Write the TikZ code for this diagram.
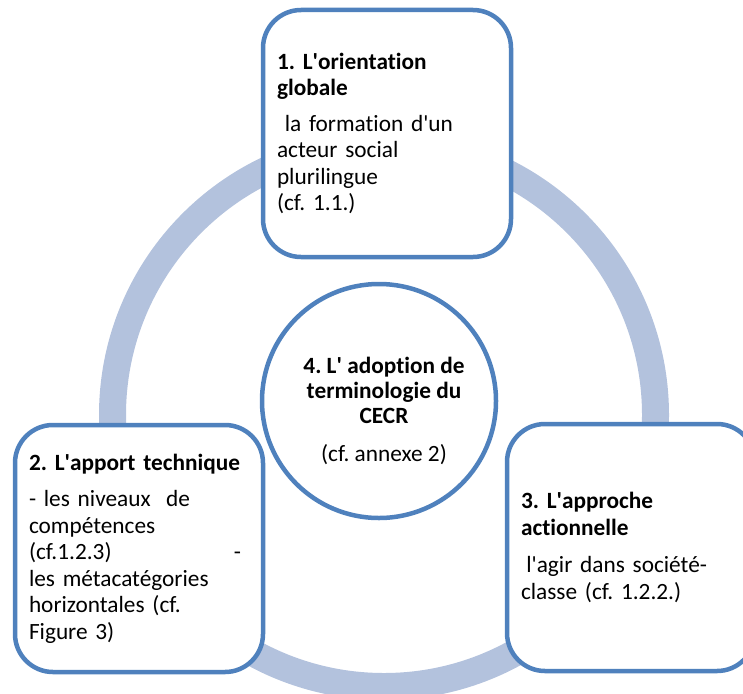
\documentclass[tikz,border=0pt]{standalone}
\usepackage{fontspec}
\setmainfont{Carlito}[Ligatures={NoCommon}]
\frenchspacing
\newcommand{\q}{\textquotesingle}
\definecolor{frameblue}{HTML}{4F81BD}
\definecolor{ringblue}{HTML}{B3C2DD}
\begin{document}
\begin{tikzpicture}[x=1pt,y=-1pt,
  ringstyle/.style={circle, draw=ringblue, line width=27pt, inner sep=0pt, minimum size=543pt},
  card/.style={draw=frameblue, line width=4.5pt, fill=white, rounded corners=38pt,
    inner xsep=14pt, inner ysep=0pt, text width=220pt, minimum height=247pt,
    align=left, font=\fontsize{23.3}{26.5}\selectfont},
  hub/.style={circle, draw=frameblue, line width=4.5pt, fill=white, inner sep=0pt, minimum size=234pt},
  hubtext/.style={align=center, font=\fontsize{23.3}{25}\selectfont}]
\useasboundingbox (0,0) rectangle (743,693);
\clip (0,0) rectangle (743,693);

% background ring linking the three themes
\node[ringstyle] (ring) at (384,415) {};

% central theme
\node[hub] (c4) at (379,401) {};
\node[hubtext] (t4) at (384,411) {\textbf{4. L\q{} adoption de}\\\textbf{terminologie du}\\\textbf{CECR}\\[13pt](cf. annexe 2)};

% three surrounding themes
\node[card] (b1) at (387,133.5) {\textbf{1. L\q{}orientation}\\\textbf{globale}\\[9pt]
  \ la formation d\q{}un\\acteur social\\plurilingue\\(cf. 1.1.)};
\node[card] (b2) at (139,548.5) {\textbf{2. L\q{}apport technique}\\[10pt]
  - les niveaux\ \ de\\compétences\\\makebox[212pt][l]{(cf.1.2.3)\hfill-}\\les métacatégories\\horizontales (cf.\\Figure 3)};
\node[card] (b3) at (631,547.5) {\raisebox{-3pt}{\parbox{220pt}{\raggedright\textbf{3. L\q{}approche}\\\textbf{actionnelle}\\[11pt]
  \hspace*{5.3pt}l\q{}agir dans société-\\classe (cf. 1.2.2.)}}};
\end{tikzpicture}
\end{document}
